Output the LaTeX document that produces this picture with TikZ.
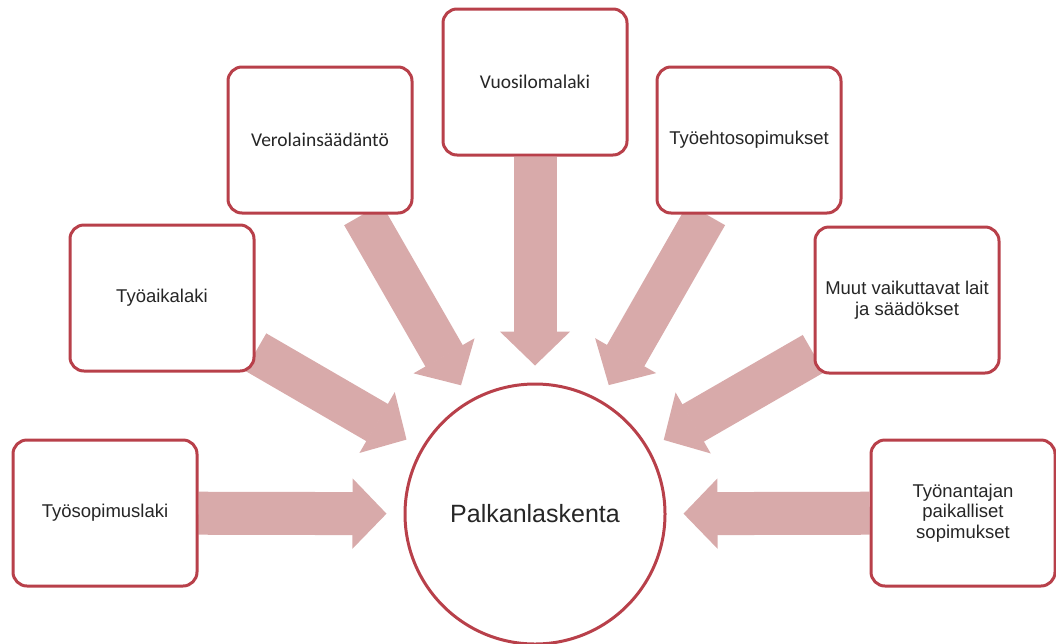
\documentclass[tikz,border=0pt]{standalone}
\usepackage{fontspec}
\setmainfont{Liberation Sans}
\newfontfamily\calibrilike{Carlito}
\usetikzlibrary{arrows.meta,backgrounds}
\definecolor{boxred}{RGB}{184,64,74}
\definecolor{arrowpink}{RGB}{216,170,170}

\begin{document}
\begin{tikzpicture}[x=1pt, y=-1pt,
    lawbox/.style={draw=boxred, line width=3pt, rounded corners=14pt, fill=white,
        minimum width=184pt, minimum height=146pt, align=center, text=black!85,
        font=\fontsize{18.5}{20.5}\selectfont, inner sep=2pt},
    bigarrow/.style={draw=arrowpink, line width=43pt,
        -{Triangle[width=70pt, length=34pt, line width=2pt 0 0, fill=arrowpink]},
        shorten >=17pt}]
    \useasboundingbox (0,0) rectangle (1056,643);

    % --- CENTRE ---
    \node[circle, draw=boxred, line width=3pt, minimum size=260pt, text=black!85,
        font=\fontsize{25}{30}\selectfont] (palkka) at (535,514) {Palkanlaskenta};

    % --- SOURCES ---
    \node[lawbox] (tsl) at (105,513) {Työsopimuslaki};
    \node[lawbox] (tal) at (162,298) {Työaikalaki};
    \node[lawbox, font=\calibrilike\fontsize{19.5}{22}\selectfont] (vero) at (320,140) {Verolainsäädäntö};
    \node[lawbox, font=\calibrilike\fontsize{19.5}{22}\selectfont] (vuosi) at (535,82) {Vuosilomalaki};
    \node[lawbox] (tes) at (749,140) {Työehtosopimukset};
    \node[lawbox] (muut) at (907,300) {Muut vaikuttavat lait\\ja säädökset};
    \node[lawbox] (tnp) at (963,513) {Työnantajan\\paikalliset\\sopimukset};

    % --- ARROWS ---
    \begin{scope}[on background layer]
        \foreach \src in {tsl,tal,vero,vuosi,tes,muut,tnp}
            \draw[bigarrow] (\src) -- (palkka);
    \end{scope}
\end{tikzpicture}
\end{document}
